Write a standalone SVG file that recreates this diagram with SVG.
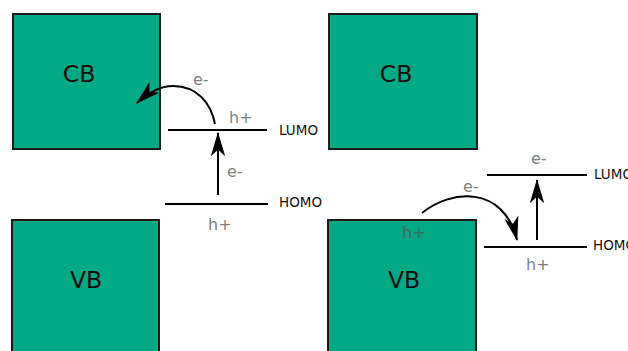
<svg xmlns="http://www.w3.org/2000/svg" width="628" height="351" viewBox="0 0 628 351">
<style>
.band{fill:#03a985;stroke:#1a1a1a;stroke-width:2}
.big{font-family:"DejaVu Sans",sans-serif;font-size:23.5px;fill:#111;text-anchor:middle}
.lvl{font-family:"DejaVu Sans",sans-serif;font-size:13.5px;fill:#111}
.q{font-family:"DejaVu Sans",sans-serif;font-size:16px;fill:#7f7f7f}
.line{stroke:#000;stroke-width:2.2;fill:none}
.arr{stroke:#000;stroke-width:2;fill:none;marker-end:url(#ah)}
</style>
<defs>
<marker id="ah" markerUnits="userSpaceOnUse" markerWidth="30" markerHeight="20" viewBox="-24 -9 26 18" refX="0" refY="0" orient="auto">
<path d="M1,0 L-21,-6.5 L-15,0 L-21,6.5 z" fill="#000"/>
</marker>
</defs>
<g id="cb-left"><rect class="band" x="13" y="14" width="147" height="135"/><text class="big" x="79" y="82">CB</text></g>
<g id="vb-left"><rect class="band" x="12" y="220" width="147" height="140"/><text class="big" x="86" y="288">VB</text></g>
<g id="cb-right"><rect class="band" x="329" y="14" width="148" height="135"/><text class="big" x="396" y="82">CB</text></g>
<g id="vb-right"><rect class="band" x="328" y="220" width="148" height="140"/><text class="big" x="404" y="288">VB</text><text class="q" x="402" y="238" style="fill:#3f6b5e">h+</text></g>
<g id="lumo-left"><line class="line" x1="168" y1="130" x2="267" y2="130"/><text class="lvl" x="279" y="135">LUMO</text><text class="q" x="229" y="123">h+</text></g>
<g id="homo-left"><line class="line" x1="165" y1="204" x2="268" y2="204"/><text class="lvl" x="279" y="207">HOMO</text><text class="q" x="208" y="230">h+</text></g>
<g id="lumo-right"><line class="line" x1="487" y1="175" x2="587" y2="175"/><text class="lvl" x="594" y="179">LUMO</text><text class="q" x="531" y="164">e-</text></g>
<g id="homo-right"><line class="line" x1="484" y1="247" x2="587" y2="247"/><text class="lvl" x="593" y="250">HOMO</text><text class="q" x="526" y="270">h+</text></g>
<g id="connectors">
<path class="arr" d="M215,124 C211,103 197,86 173,86 C160,86 148,93 137,103"/>
<text class="q" x="193" y="85">e-</text>
<path class="arr" d="M218,195 L218,133"/>
<text class="q" x="227" y="177">e-</text>
<path class="arr" d="M422,213 C450,190 503,184 517,240"/>
<text class="q" x="463" y="192">e-</text>
<path class="arr" d="M537,240 L537,180"/>
</g>
</svg>
